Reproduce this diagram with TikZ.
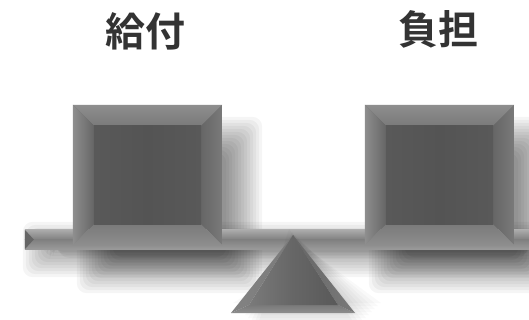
\documentclass[tikz,border=0pt]{standalone}
\usepackage{fontspec}
\newfontfamily\jpfont{Noto Sans CJK JP Bold}

\definecolor{labelgray}{HTML}{333333}
\definecolor{core}{HTML}{545454}
\definecolor{coreedge}{HTML}{595959}
\definecolor{facelight}{HTML}{8E8E8E}
\definecolor{facemid}{HTML}{7A7A7A}
\definecolor{facedark}{HTML}{666666}
\definecolor{barlight}{HTML}{ABABAB}
\definecolor{bardark}{HTML}{808080}

% four bevelled faces around a dark core, #1 = node, #2 = bevel width
\newcommand\bevelfaces[2]{%
  \shade[top color=facelight, bottom color=facemid]
    (#1.north west) -- (#1.north east) -- ([xshift=-#2,yshift=-#2]#1.north east) -- ([xshift=#2,yshift=-#2]#1.north west) -- cycle;
  \shade[left color=facelight, right color=facedark]
    (#1.north west) -- ([xshift=#2,yshift=-#2]#1.north west) -- ([xshift=#2,yshift=#2]#1.south west) -- (#1.south west) -- cycle;
  \shade[left color=facedark, right color=facemid]
    (#1.north east) -- ([xshift=-#2,yshift=-#2]#1.north east) -- ([xshift=-#2,yshift=#2]#1.south east) -- (#1.south east) -- cycle;
  \shade[top color=facemid, bottom color=facelight]
    (#1.south west) -- ([xshift=#2,yshift=#2]#1.south west) -- ([xshift=-#2,yshift=#2]#1.south east) -- (#1.south east) -- cycle;
  \shade[left color=coreedge, right color=coreedge, middle color=core]
    ([xshift=#2,yshift=-#2]#1.north west) rectangle ([xshift=-#2,yshift=#2]#1.south east);
}

% soft shadow behind node #1, moved right by #2 and down by #3
\newcommand\castshadow[3]{%
  \foreach \r in {-18,-15,...,18}
    \fill[black, opacity=0.04, rounded corners=10pt]
      ([xshift={#2+\r*1pt}, yshift={-#3-\r*1pt}]#1.north west) rectangle ([xshift={#2-\r*1pt}, yshift={-#3+\r*1pt}]#1.south east);
}

\begin{document}
\begin{tikzpicture}[x=1pt, y=-1pt,
    block/.style={rectangle, minimum width=149pt, minimum height=140pt, inner sep=0pt, fill=facedark},
    beam/.style={rectangle, minimum width=504pt, minimum height=19pt, inner sep=0pt},
    caption/.style={font=\jpfont\fontsize{40}{40}\selectfont, text=labelgray, inner sep=0pt}
  ]
  \useasboundingbox[fill=white] (0,0) rectangle (529,320);

  \node[caption] (benefit) at (145,31) {給付};
  \node[caption] (burden) at (438,29) {負担};

  \node[beam] (bar) at (277,239.5) {};
  \node[block] (left) at (147.5,175) {};
  \node[block] (right) at (439.5,175) {};

  \begin{scope}
    \clip (0,0) rectangle (529,320);
    \castshadow{bar}{16pt}{10pt}
    \castshadow{left}{22pt}{30pt}
    \castshadow{right}{22pt}{30pt}
  \end{scope}

  \shade[top color=barlight, bottom color=bardark] (bar.north west) rectangle (bar.east);
  \shade[top color=bardark, bottom color=barlight!90!black] (bar.west) rectangle (bar.south east);
  \fill[facedark] (bar.north west) -- ([xshift=9pt]bar.west) -- (bar.south west) -- cycle;

  \coordinate (apex) at (293,235);
  \coordinate (baseleft) at (231,313);
  \coordinate (baseright) at (355,313);
  \coordinate (innerleft) at (249,305);
  \coordinate (innerright) at (338,305);
  \coordinate (innermid) at (293,305);
  \foreach \r in {-12,-9,...,12}
    \fill[black, opacity=0.025] ([shift={(8+\r,6+\r)}]apex) -- ([shift={(14+\r,2-\r)}]baseright) -- ([shift={(14-\r,2-\r)}]baseleft) -- cycle;
  \shade[left color=facelight!110!white, right color=facemid] (apex) -- (baseleft) -- (innerleft) -- cycle;
  \shade[top color=facemid, bottom color=facelight] (baseleft) -- (innerleft) -- (innerright) -- (baseright) -- cycle;
  \shade[left color=facedark, right color=facemid] (apex) -- (innerright) -- (baseright) -- cycle;
  \shade[left color=facemid, right color=facedark] (apex) -- (innerleft) -- (innermid) -- cycle;
  \shade[left color=facedark, right color=coreedge] (apex) -- (innermid) -- (innerright) -- cycle;

  \bevelfaces{left}{21pt}
  \bevelfaces{right}{21pt}
\end{tikzpicture}
\end{document}
